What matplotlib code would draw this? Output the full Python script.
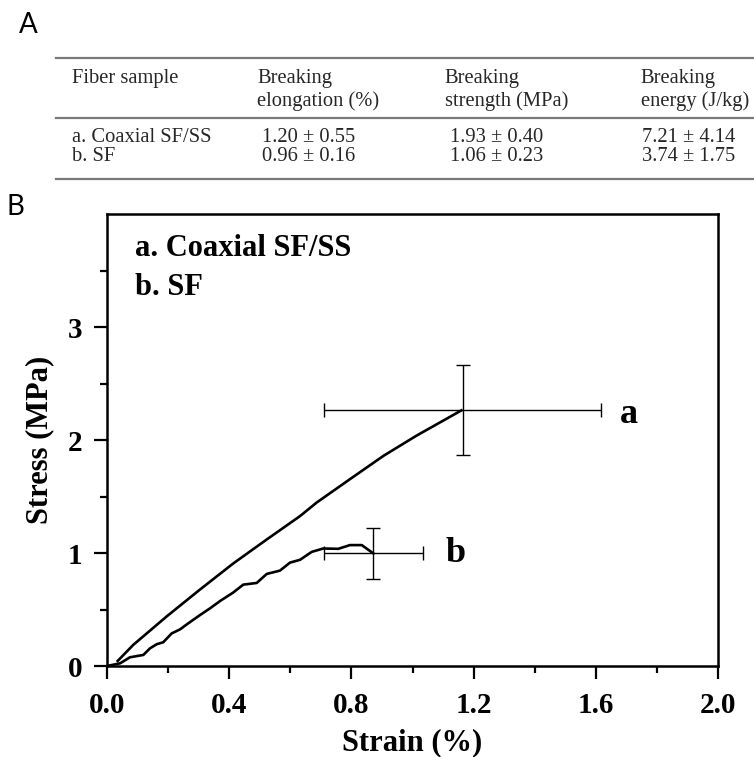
"""
Tabla de propiedades de rotura (A) y curvas esfuerzo-deformacion (B)
"""

import matplotlib
matplotlib.use("Agg")
import matplotlib.pyplot as plt
from matplotlib.lines import Line2D

# Tabla A
cabecera = ["Fiber sample", "Breaking\nelongation (%)",
            "Breaking\nstrength (MPa)", "Breaking\nenergy (J/kg)"]
muestras = ["a. Coaxial SF/SS", "b. SF"]
elongacion = ["1.20 \u00b1 0.55", "0.96 \u00b1 0.16"]
resistencia = ["1.93 \u00b1 0.40", "1.06 \u00b1 0.23"]
energia = ["7.21 \u00b1 4.14", "3.74 \u00b1 1.75"]

# Curva a (coaxial SF/SS)
strain_a = [0.035, 0.086, 0.195, 0.304, 0.413, 0.523, 0.632, 0.686,
            0.795, 0.905, 1.014, 1.160]
stress_a = [0.045, 0.187, 0.438, 0.676, 0.907, 1.120, 1.327, 1.446,
            1.653, 1.860, 2.040, 2.262]

# Curva b (SF)
strain_b = [0.0, 0.043, 0.075, 0.119, 0.141, 0.163, 0.184, 0.212, 0.239,
            0.261, 0.304, 0.337, 0.370, 0.413, 0.446, 0.490, 0.523, 0.566,
            0.599, 0.632, 0.670, 0.708, 0.757, 0.795, 0.834, 0.872]
stress_b = [0.0, 0.024, 0.077, 0.098, 0.157, 0.193, 0.210, 0.289, 0.324,
            0.368, 0.450, 0.510, 0.575, 0.650, 0.720, 0.735, 0.815, 0.844,
            0.915, 0.940, 1.010, 1.040, 1.037, 1.070, 1.070, 0.996]

# Puntos finales con barras de error
punto_x = [1.164, 0.872]
punto_y = [2.267, 0.996]
err_x = [0.453, 0.161]
err_y = [0.40, 0.227]
etiquetas = ["a", "b"]

fig = plt.figure(figsize=(7.54, 7.57), dpi=100)

# ---------- Panel A: tabla ----------
fig.text(0.025, 0.967, "A", fontsize=20, family="Lato", va="center")
fig.text(0.009, 0.727, "B", fontsize=20, family="Lato", va="center")

for yy in [0.924, 0.844, 0.7635]:
    fig.add_artist(Line2D([0.074, 1.0], [yy, yy], transform=fig.transFigure,
                          color="#7a7a7a", lw=1.6))

col_x = [0.095, 0.341, 0.590, 0.850]
dat_x = [0.095, 0.347, 0.597, 0.851]
fuente_tabla = dict(fontsize=14.8, family="Liberation Serif", color="#262626")

fig.text(col_x[0], 0.896, cabecera[0], va="center", **fuente_tabla)
for cx, txt in zip(col_x[1:], cabecera[1:]):
    fig.text(cx, 0.881, txt, va="center", linespacing=1.25, **fuente_tabla)

filas_y = [0.818, 0.793]
for i, fy in enumerate(filas_y):
    fila = [muestras[i], elongacion[i], resistencia[i], energia[i]]
    for dx, txt in zip(dat_x, fila):
        fig.text(dx, fy, txt, va="center", **fuente_tabla)

# ---------- Panel B: grafica ----------
ax = fig.add_axes([0.1419, 0.1202, 0.8104, 0.5971])
serif_bold = dict(family="Liberation Serif", weight="bold")

ax.plot(strain_a, stress_a, color="black", lw=1.9)
ax.plot(strain_b, stress_b, color="black", lw=1.9)
ax.errorbar(punto_x, punto_y, xerr=err_x, yerr=err_y, fmt="none",
            ecolor="black", elinewidth=1.0, capsize=4.7, capthick=1.0)

ax.text(1.709, 2.151, etiquetas[0], fontsize=26, ha="center", va="baseline", **serif_bold)
ax.text(1.142, 0.916, etiquetas[1], fontsize=26, ha="center", va="baseline", **serif_bold)
ax.text(0.092, 3.627, "a. Coaxial SF/SS", fontsize=22, va="baseline", **serif_bold)
ax.text(0.092, 3.28, "b. SF", fontsize=22, va="baseline", **serif_bold)

ax.set_xlim(0, 2.0)
ax.set_ylim(0, 4.0)
ax.set_xticks([0.0, 0.4, 0.8, 1.2, 1.6, 2.0])
ax.set_xticks([0.2, 0.6, 1.0, 1.4, 1.8], minor=True)
ax.set_yticks([0, 1, 2, 3])
ax.set_yticks([0.5, 1.5, 2.5, 3.5], minor=True)
ax.set_xticklabels(["0.0", "0.4", "0.8", "1.2", "1.6", "2.0"])

for sp in ax.spines.values():
    sp.set_linewidth(1.8)
ax.tick_params(which="major", direction="out", length=9.5, width=1.6)
ax.tick_params(which="minor", direction="out", length=5, width=1.6)
ax.tick_params(axis="x", which="major", pad=9)
ax.tick_params(axis="y", which="major", pad=8)
for lab in ax.get_xticklabels() + ax.get_yticklabels():
    lab.set_fontfamily("Liberation Serif")
    lab.set_fontweight("bold")
    lab.set_fontsize(21)

ax.set_xlabel("Strain (%)", fontsize=22, labelpad=7, **serif_bold)
ax.set_ylabel("Stress (MPa)", fontsize=22, labelpad=10, **serif_bold)

fig.savefig("out.png", dpi=100)
plt.close(fig)
